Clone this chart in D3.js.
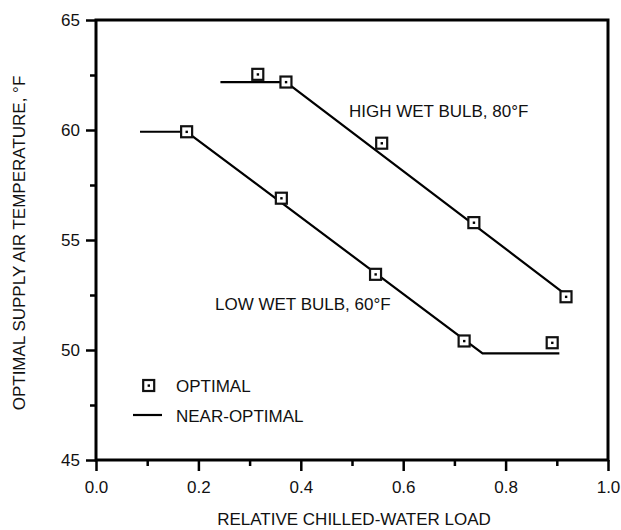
<!DOCTYPE html>
<html>
<head>
<meta charset="utf-8">
<script src="https://cdn.jsdelivr.net/npm/d3@7"></script>
<style>
  html, body { margin: 0; padding: 0; background: #fff; }
  svg { display: block; font-family: "Liberation Sans", Arial, sans-serif; }
</style>
</head>
<body>
<svg id="chart" width="621" height="530"></svg>
<script>
// ---- data ----
const lowOptX = [0.177, 0.362, 0.546, 0.719, 0.891];
const lowOptY = [59.92, 56.9, 53.44, 50.41, 50.33];
const highOptX = [0.316, 0.371, 0.558, 0.738, 0.918];
const highOptY = [62.53, 62.18, 59.40, 55.79, 52.42];
const lowLineX = [0.086, 0.177, 0.755, 0.905];
const lowLineY = [59.92, 59.92, 49.85, 49.85];
const highLineX = [0.243, 0.371, 0.913];
const highLineY = [62.18, 62.18, 52.6];
const xMajorTicks = [0, 0.2, 0.4, 0.6, 0.8, 1.0];
const xMinorTicks = [0.1, 0.3, 0.5, 0.7, 0.9];
const yMajorTicks = [45, 50, 55, 60, 65];
const yMinorTicks = [47.5, 52.5, 57.5, 62.5];
const seriesLabels = ["HIGH WET BULB, 80°F", "LOW WET BULB, 60°F"];
const legendLabels = ["OPTIMAL", "NEAR-OPTIMAL"];
const xTitle = "RELATIVE CHILLED-WATER LOAD";
const yTitle = "OPTIMAL SUPPLY AIR TEMPERATURE, °F";

// ---- layout ----
const svg = d3.select("#chart");
const L = 96, R = 608, T = 20, B = 460;
const x = d3.scaleLinear().domain([0, 1]).range([L, R]);
const y = d3.scaleLinear().domain([45, 65]).range([B, T]);
const FS = 17;

// axes: ticks
const gx = svg.append("g").attr("transform", `translate(0,${B})`);
gx.call(d3.axisBottom(x).tickValues(xMajorTicks).tickSize(11).tickPadding(10)
  .tickFormat(d3.format(".1f")));
gx.append("g").call(d3.axisBottom(x).tickValues(xMinorTicks).tickSize(6).tickFormat(""));
const gy = svg.append("g").attr("transform", `translate(${L},0)`);
gy.call(d3.axisLeft(y).tickValues(yMajorTicks).tickSize(10).tickPadding(6).tickFormat(d3.format("d")));
gy.append("g").call(d3.axisLeft(y).tickValues(yMinorTicks).tickSize(6).tickFormat(""));
svg.selectAll(".domain").remove();
svg.selectAll(".tick line").attr("stroke", "#000").attr("stroke-width", 2.5);
svg.selectAll(".tick text").attr("fill", "#111").style("font-size", FS + "px")
  .style("font-family", "'Liberation Sans', Arial, sans-serif");

// frame
svg.append("rect").attr("x", L).attr("y", T).attr("width", R - L).attr("height", B - T)
  .attr("fill", "none").attr("stroke", "#000").attr("stroke-width", 3);

// lines
const line = d3.line().x(d => x(d[0])).y(d => y(d[1]));
const lowLine = lowLineX.map((v, i) => [v, lowLineY[i]]);
const highLine = highLineX.map((v, i) => [v, highLineY[i]]);
[lowLine, highLine].forEach(pts => {
  svg.append("path").attr("d", line(pts)).attr("fill", "none")
    .attr("stroke", "#000").attr("stroke-width", 2.2).attr("stroke-linejoin", "miter");
});

// markers
function marker(cx, cy) {
  svg.append("rect").attr("x", cx - 5.5).attr("y", cy - 5.5).attr("width", 11).attr("height", 11)
    .attr("fill", "#fff").attr("stroke", "#111").attr("stroke-width", 2.2);
  svg.append("rect").attr("x", cx - 1.1).attr("y", cy - 1.1).attr("width", 2.4).attr("height", 2.4)
    .attr("fill", "#000");
}
lowOptX.forEach((v, i) => marker(x(v), y(lowOptY[i])));
highOptX.forEach((v, i) => marker(x(v), y(highOptY[i])));

// series labels
svg.append("text").attr("x", 349).attr("y", 117).text(seriesLabels[0])
  .attr("font-size", FS).attr("fill", "#111");
svg.append("text").attr("x", 215).attr("y", 310).text(seriesLabels[1])
  .attr("font-size", FS).attr("fill", "#111");

// legend
marker(148.7, 385.5);
svg.append("text").attr("x", 176).attr("y", 392).text(legendLabels[0])
  .attr("font-size", FS).attr("fill", "#111");
svg.append("line").attr("x1", 133).attr("x2", 162).attr("y1", 415).attr("y2", 415)
  .attr("stroke", "#000").attr("stroke-width", 2.2);
svg.append("text").attr("x", 176).attr("y", 422).text(legendLabels[1])
  .attr("font-size", FS).attr("fill", "#111");

// axis titles
svg.append("text").attr("x", (L + R) / 2 + 2).attr("y", 525).attr("text-anchor", "middle")
  .text(xTitle).attr("font-size", FS).attr("fill", "#111");
svg.append("text").attr("transform", `translate(25,243) rotate(-90)`).attr("text-anchor", "middle")
  .text(yTitle).attr("font-size", FS).attr("fill", "#111");
</script>
</body>
</html>
